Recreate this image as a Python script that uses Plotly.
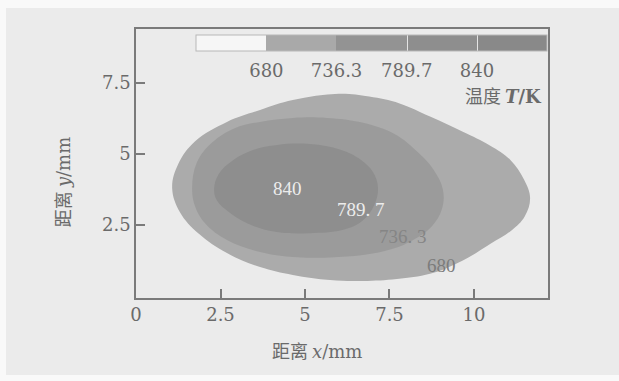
import plotly.graph_objects as go

# ---- data ----
levels = [680, 736.3, 789.7, 840]
level_labels = ["680", "736.3", "789.7", "840"]

# boundary of the 680 K region (x, y in mm)
c680_x = [1.07, 1.25, 1.75, 2.69, 3.67, 4.64, 6.00, 6.90, 7.80, 8.70, 9.67, 10.47, 11.07,
          11.48, 11.66, 11.50, 11.10, 10.50, 9.67, 8.70, 7.72, 6.72, 5.74, 4.64, 3.67,
          2.69, 1.85, 1.30, 1.07]
c680_y = [3.80, 4.65, 5.45, 6.13, 6.55, 6.90, 7.12, 7.02, 6.78, 6.32, 5.78, 5.30, 4.80,
          4.10, 3.45, 2.80, 2.30, 1.85, 1.25, 0.78, 0.60, 0.53, 0.56, 0.74, 1.02,
          1.51, 2.20, 2.95, 3.80]

# boundary of the 736.3 K region
c736_x = [1.66, 1.80, 2.25, 2.90, 3.67, 4.64, 5.65, 6.72, 7.65, 8.35, 8.80, 9.08, 9.05,
          8.75, 8.20, 7.60, 6.72, 5.74, 4.64, 3.67, 2.69, 2.05, 1.75, 1.66]
c736_y = [3.80, 4.70, 5.40, 5.90, 6.13, 6.27, 6.27, 6.10, 5.70, 5.05, 4.45, 3.75, 3.05,
          2.45, 1.97, 1.66, 1.44, 1.36, 1.37, 1.55, 1.97, 2.55, 3.15, 3.80]

# boundary of the 789.7 K region
c790_x = [2.31, 2.45, 2.87, 3.46, 4.17, 5.15, 6.05, 6.65, 7.02, 7.16, 7.05, 6.70, 6.10,
          5.15, 4.17, 3.30, 2.70, 2.40, 2.31]
c790_y = [3.75, 4.30, 4.78, 5.14, 5.32, 5.35, 5.15, 4.80, 4.35, 3.80, 3.20, 2.65, 2.32,
          2.21, 2.25, 2.55, 3.00, 3.35, 3.75]

# in-plot contour labels (x, y in mm)
lab_x = [9.05, 7.90, 6.66, 4.47]
lab_y = [1.06, 2.08, 3.03, 3.80]

x_ticks = [0, 2.5, 5, 7.5, 10]
y_ticks = [2.5, 5, 7.5]

# ---- styling ----
BG = "#ebebeb"
FRAME = "#7a7a7a"
TXT = "#6a6a6a"
fill_cols = ["#ababab", "#9b9b9b", "#8e8e8e"]
bar_cols = ["#f6f6f6", "#a9a9a9", "#939393", "#8e8e8e", "#898989"]
lab_cols = ["#7c7c7c", "#858585", "#ececec", "#ececec"]
SERIF = "DejaVu Serif"
CJK = "Noto Sans CJK SC"


def serif(t):
    return f'<span style="font-family:{SERIF}">{t}</span>'


fig = go.Figure()

for xs, ys, col in [(c680_x, c680_y, fill_cols[0]),
                    (c736_x, c736_y, fill_cols[1]),
                    (c790_x, c790_y, fill_cols[2])]:
    fig.add_trace(go.Scatter(x=xs, y=ys, mode="lines", fill="toself",
                             fillcolor=col,
                             line=dict(width=0, color=col, shape="spline", smoothing=1.1),
                             hoverinfo="skip", showlegend=False))

for lx, ly, t, c in zip(lab_x, lab_y, level_labels, lab_cols):
    fig.add_annotation(x=lx, y=ly, text=t.replace(".", ". "), showarrow=False,
                       font=dict(family="Liberation Serif", size=19, color=c))

# discrete colour bar (5 equal segments, boundaries labelled by the levels)
n = len(bar_cols)
gap = 0.004
cscale = []
for i, c in enumerate(bar_cols):
    lo, hi = i / n, (i + 1) / n
    if i >= 3:
        cscale.append([lo, "#e4e4e4"])
        cscale.append([lo + gap, "#e4e4e4"])
        cscale.append([lo + gap, c])
    else:
        cscale.append([lo, c])
    cscale.append([hi, c])
fig.add_trace(go.Scatter(
    x=[None, None], y=[None, None], mode="markers", showlegend=False, hoverinfo="skip",
    marker=dict(color=[0, n], cmin=0, cmax=n, colorscale=cscale, showscale=True,
                colorbar=dict(orientation="h", x=0.146, xanchor="left", y=0.978,
                              yanchor="top", len=351, lenmode="pixels", thickness=16,
                              xpad=0, ypad=0, outlinewidth=1, outlinecolor="#b8b8b8",
                              tickvals=[1, 2, 3, 4], ticktext=level_labels,
                              ticks="outside", ticklen=4, tickcolor="rgba(0,0,0,0)",
                              tickfont=dict(family=SERIF, size=18, color=TXT)))))

fig.add_annotation(xref="paper", yref="paper", x=0.99, y=0.755, xanchor="right",
                   yanchor="middle", showarrow=False,
                   text="温度 " + serif("<b><i>T</i>/K</b>"),
                   font=dict(family=CJK, size=18, color=TXT))

# axis titles
fig.add_annotation(xref="paper", yref="paper", x=0.44, y=-0.195, xanchor="center",
                   yanchor="middle", showarrow=False,
                   text="距离 " + serif("<i>x</i>/mm"), font=dict(family=CJK, size=18, color=TXT))
fig.add_annotation(xref="paper", yref="paper", x=-0.18, y=0.43, xanchor="center",
                   yanchor="middle", showarrow=False, textangle=-90,
                   text="距离 " + serif("<i>y</i>/mm"), font=dict(family=CJK, size=18, color=TXT))

# white page borders around the scanned grey panel
for x0, x1, y0, y1 in [(-0.36, -0.3155, -0.35, 1.15),
                       (-0.36, 1.25, 1.078, 1.15),
                       (-0.36, 1.25, -0.35, -0.286)]:
    fig.add_shape(type="rect", xref="paper", yref="paper", layer="below",
                  x0=x0, x1=x1, y0=y0, y1=y1, fillcolor="#f9f9f9", line=dict(width=0))

axis_common = dict(showgrid=False, zeroline=False, showline=True, linecolor=FRAME,
                   linewidth=1.5, mirror=True, ticks="inside", ticklen=9,
                   tickcolor=FRAME, tickwidth=1.5,
                   tickfont=dict(family=SERIF, size=18, color=TXT))

fig.update_layout(
    width=619, height=381,
    margin=dict(l=136, r=71, t=29, b=83),
    paper_bgcolor=BG, plot_bgcolor="rgba(0,0,0,0)",
    xaxis=dict(range=[0, 12.19], tickvals=x_ticks, ticktext=[f"{v:g}" for v in x_ticks],
               **axis_common),
    yaxis=dict(range=[-0.07, 9.4], tickvals=y_ticks, ticktext=[f"{v:g}" for v in y_ticks],
               **axis_common),
)

fig.write_html("out.html", config={"displayModeBar": False},
               post_script=("document.documentElement.style.overflow='hidden';"
                            "document.body.style.overflow='hidden';"
                            "document.body.style.margin='0';"
                            "document.documentElement.style.background='#ebebeb';"
                            "document.body.style.background='#ebebeb';"))
